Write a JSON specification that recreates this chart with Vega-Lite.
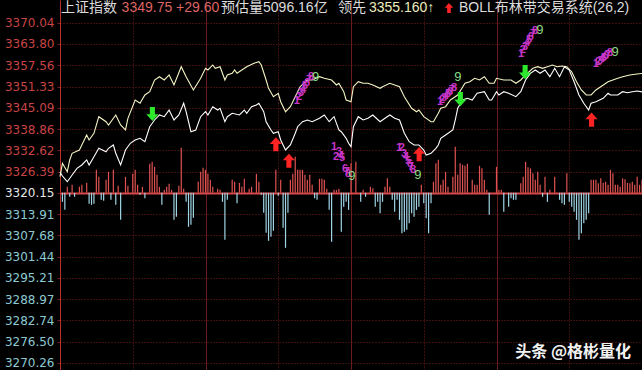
{
"$schema": "https://vega.github.io/schema/vega-lite/v6.json",
"width": 582, "height": 370,
"autosize": {"type": "none"},
"padding": {"left": 60, "top": 0, "right": 0, "bottom": 0},
"background": "#000000",
"config": {"view": {"stroke": null}},
"datasets": {
"lead": [{"t":0,"p":3324.88},{"t":1,"p":3328.81},{"t":3,"p":3326.35},{"t":4,"p":3329.78},{"t":5,"p":3331.74},{"t":8,"p":3332.71},{"t":9,"p":3334.18},{"t":11,"p":3337.11},{"t":12,"p":3335.64},{"t":14,"p":3337.61},{"t":16,"p":3342.48},{"t":19,"p":3341.01},{"t":20,"p":3340.04},{"t":23,"p":3342.98},{"t":25,"p":3340.04},{"t":27,"p":3338.58},{"t":28,"p":3342.01},{"t":31,"p":3347.37},{"t":33,"p":3346.41},{"t":35,"p":3348.84},{"t":37,"p":3349.81},{"t":39,"p":3353.24},{"t":41,"p":3354.21},{"t":43,"p":3353.24},{"t":45,"p":3354.71},{"t":47,"p":3351.77},{"t":50,"p":3357.14},{"t":52,"p":3354.21},{"t":55,"p":3350.31},{"t":58,"p":3353.74},{"t":60,"p":3356.67},{"t":61,"p":3356.17},{"t":63,"p":3357.64},{"t":64,"p":3356.67},{"t":66,"p":3357.14},{"t":68,"p":3353.24},{"t":69,"p":3354.71},{"t":71,"p":3355.20},{"t":72,"p":3356.17},{"t":73,"p":3355.20},{"t":75,"p":3356.17},{"t":77,"p":3357.14},{"t":80,"p":3358.14},{"t":82,"p":3358.61},{"t":83,"p":3357.64},{"t":85,"p":3353.24},{"t":86,"p":3350.80},{"t":88,"p":3348.34},{"t":90,"p":3349.34},{"t":91,"p":3346.88},{"t":93,"p":3343.94},{"t":95,"p":3345.41},{"t":97,"p":3348.34},{"t":99,"p":3351.27},{"t":102,"p":3353.24},{"t":104,"p":3353.24},{"t":107,"p":3354.21},{"t":109,"p":3353.74},{"t":112,"p":3353.24},{"t":114,"p":3351.77},{"t":115,"p":3352.27},{"t":117,"p":3349.81},{"t":118,"p":3347.37},{"t":120,"p":3346.88},{"t":121,"p":3351.27},{"t":123,"p":3352.74},{"t":125,"p":3352.27},{"t":127,"p":3352.27},{"t":129,"p":3351.77},{"t":132,"p":3350.80},{"t":133,"p":3351.27},{"t":136,"p":3352.27},{"t":138,"p":3351.77},{"t":140,"p":3351.27},{"t":142,"p":3348.34},{"t":145,"p":3344.94},{"t":147,"p":3343.94},{"t":148,"p":3344.44},{"t":150,"p":3342.48},{"t":153,"p":3341.01},{"t":154,"p":3341.01},{"t":156,"p":3343.47},{"t":157,"p":3344.94},{"t":159,"p":3345.41},{"t":161,"p":3347.37},{"t":164,"p":3348.84},{"t":167,"p":3352.27},{"t":169,"p":3352.74},{"t":171,"p":3353.74},{"t":173,"p":3353.24},{"t":175,"p":3354.21},{"t":177,"p":3352.27},{"t":179,"p":3352.27},{"t":180,"p":3353.74},{"t":183,"p":3353.24},{"t":186,"p":3353.24},{"t":188,"p":3352.27},{"t":190,"p":3353.24},{"t":192,"p":3354.71},{"t":195,"p":3356.67},{"t":197,"p":3357.14},{"t":199,"p":3356.67},{"t":201,"p":3357.14},{"t":203,"p":3357.64},{"t":205,"p":3357.14},{"t":207,"p":3357.34},{"t":209,"p":3357.14},{"t":211,"p":3355.67},{"t":213,"p":3352.74},{"t":215,"p":3350.31},{"t":217,"p":3348.84},{"t":219,"p":3348.84},{"t":221,"p":3350.31},{"t":223,"p":3351.27},{"t":226,"p":3352.74},{"t":230,"p":3353.74},{"t":232,"p":3354.21},{"t":235,"p":3354.71},{"t":238,"p":3355.00},{"t":240,"p":3355.16}],
"index": [{"t":0,"p":3326.26},{"t":1,"p":3325.09},{"t":3,"p":3323.41},{"t":5,"p":3325.38},{"t":7,"p":3327.34},{"t":9,"p":3328.31},{"t":11,"p":3329.78},{"t":12,"p":3328.31},{"t":14,"p":3330.75},{"t":16,"p":3333.21},{"t":19,"p":3332.21},{"t":20,"p":3333.21},{"t":22,"p":3334.18},{"t":23,"p":3331.74},{"t":25,"p":3328.31},{"t":27,"p":3332.71},{"t":29,"p":3334.68},{"t":31,"p":3335.64},{"t":33,"p":3336.14},{"t":35,"p":3335.14},{"t":37,"p":3339.54},{"t":39,"p":3341.51},{"t":41,"p":3342.98},{"t":43,"p":3342.48},{"t":45,"p":3344.44},{"t":47,"p":3341.51},{"t":49,"p":3342.98},{"t":51,"p":3346.41},{"t":52,"p":3343.94},{"t":54,"p":3338.08},{"t":56,"p":3338.58},{"t":58,"p":3342.48},{"t":60,"p":3343.94},{"t":61,"p":3342.98},{"t":63,"p":3345.41},{"t":65,"p":3344.44},{"t":66,"p":3344.94},{"t":68,"p":3341.01},{"t":69,"p":3342.48},{"t":71,"p":3343.47},{"t":74,"p":3342.98},{"t":76,"p":3344.44},{"t":77,"p":3343.47},{"t":79,"p":3345.41},{"t":81,"p":3345.91},{"t":82,"p":3346.41},{"t":84,"p":3343.94},{"t":85,"p":3341.01},{"t":87,"p":3338.58},{"t":88,"p":3337.61},{"t":90,"p":3338.08},{"t":91,"p":3335.64},{"t":93,"p":3332.71},{"t":95,"p":3334.18},{"t":97,"p":3337.61},{"t":98,"p":3339.54},{"t":100,"p":3341.01},{"t":102,"p":3341.51},{"t":104,"p":3341.01},{"t":107,"p":3342.01},{"t":109,"p":3342.98},{"t":111,"p":3341.01},{"t":113,"p":3342.48},{"t":115,"p":3338.58},{"t":116,"p":3338.08},{"t":118,"p":3336.14},{"t":119,"p":3334.68},{"t":120,"p":3333.68},{"t":121,"p":3339.54},{"t":123,"p":3342.48},{"t":125,"p":3341.51},{"t":127,"p":3342.01},{"t":129,"p":3342.98},{"t":132,"p":3341.01},{"t":134,"p":3342.01},{"t":136,"p":3342.98},{"t":138,"p":3342.01},{"t":140,"p":3341.51},{"t":142,"p":3337.61},{"t":144,"p":3335.14},{"t":146,"p":3334.18},{"t":148,"p":3334.18},{"t":150,"p":3332.71},{"t":151,"p":3331.25},{"t":153,"p":3331.74},{"t":155,"p":3333.21},{"t":156,"p":3334.18},{"t":157,"p":3336.14},{"t":159,"p":3337.11},{"t":162,"p":3338.58},{"t":163,"p":3341.51},{"t":164,"p":3344.94},{"t":166,"p":3347.37},{"t":168,"p":3347.87},{"t":170,"p":3347.37},{"t":172,"p":3349.34},{"t":175,"p":3349.81},{"t":177,"p":3347.37},{"t":178,"p":3347.37},{"t":180,"p":3349.81},{"t":181,"p":3348.84},{"t":183,"p":3349.81},{"t":185,"p":3349.34},{"t":188,"p":3348.34},{"t":190,"p":3349.81},{"t":192,"p":3353.24},{"t":194,"p":3355.20},{"t":196,"p":3356.17},{"t":198,"p":3355.20},{"t":200,"p":3356.17},{"t":202,"p":3354.21},{"t":204,"p":3356.67},{"t":206,"p":3354.21},{"t":208,"p":3357.14},{"t":210,"p":3356.17},{"t":212,"p":3352.74},{"t":214,"p":3348.84},{"t":216,"p":3346.41},{"t":218,"p":3344.44},{"t":219,"p":3346.41},{"t":221,"p":3346.88},{"t":224,"p":3347.87},{"t":226,"p":3349.34},{"t":227,"p":3348.84},{"t":230,"p":3348.84},{"t":232,"p":3349.81},{"t":234,"p":3349.51},{"t":236,"p":3349.81},{"t":238,"p":3350.01},{"t":240,"p":3349.75}],
"bars": [{"t":1,"p":3317.51},{"t":2,"p":3315.16},{"t":3,"p":3321.91},{"t":4,"p":3318.98},{"t":5,"p":3322.50},{"t":6,"p":3318.98},{"t":8,"p":3321.91},{"t":9,"p":3322.50},{"t":11,"p":3323.08},{"t":12,"p":3316.92},{"t":13,"p":3316.63},{"t":14,"p":3316.92},{"t":15,"p":3326.90},{"t":16,"p":3324.84},{"t":17,"p":3318.10},{"t":18,"p":3317.80},{"t":19,"p":3323.96},{"t":20,"p":3326.31},{"t":21,"p":3318.10},{"t":22,"p":3326.90},{"t":23,"p":3316.63},{"t":24,"p":3322.20},{"t":25,"p":3312.23},{"t":27,"p":3324.84},{"t":28,"p":3322.20},{"t":30,"p":3325.72},{"t":31,"p":3326.90},{"t":32,"p":3322.50},{"t":33,"p":3319.56},{"t":34,"p":3321.91},{"t":35,"p":3318.54},{"t":37,"p":3328.65},{"t":38,"p":3329.24},{"t":39,"p":3327.77},{"t":40,"p":3325.43},{"t":41,"p":3321.91},{"t":42,"p":3316.63},{"t":43,"p":3321.03},{"t":44,"p":3321.91},{"t":45,"p":3322.79},{"t":46,"p":3321.03},{"t":47,"p":3312.23},{"t":48,"p":3313.11},{"t":49,"p":3322.20},{"t":50,"p":3333.35},{"t":51,"p":3321.32},{"t":52,"p":3317.51},{"t":53,"p":3310.18},{"t":54,"p":3310.77},{"t":55,"p":3312.82},{"t":57,"p":3323.38},{"t":58,"p":3326.31},{"t":59,"p":3327.48},{"t":60,"p":3326.90},{"t":61,"p":3325.72},{"t":62,"p":3323.96},{"t":63,"p":3321.91},{"t":65,"p":3321.32},{"t":66,"p":3321.03},{"t":67,"p":3317.51},{"t":68,"p":3306.37},{"t":69,"p":3318.10},{"t":71,"p":3323.96},{"t":72,"p":3323.38},{"t":73,"p":3317.07},{"t":74,"p":3323.08},{"t":75,"p":3321.91},{"t":76,"p":3324.26},{"t":78,"p":3321.32},{"t":79,"p":3321.91},{"t":81,"p":3325.72},{"t":82,"p":3323.38},{"t":83,"p":3319.56},{"t":84,"p":3314.28},{"t":85,"p":3308.42},{"t":86,"p":3306.07},{"t":87,"p":3307.25},{"t":88,"p":3309.01},{"t":89,"p":3326.90},{"t":90,"p":3319.27},{"t":91,"p":3323.96},{"t":92,"p":3309.89},{"t":93,"p":3304.02},{"t":94,"p":3314.28},{"t":95,"p":3323.96},{"t":96,"p":3325.72},{"t":97,"p":3330.71},{"t":98,"p":3326.90},{"t":99,"p":3326.90},{"t":100,"p":3326.90},{"t":101,"p":3325.43},{"t":102,"p":3323.96},{"t":103,"p":3325.43},{"t":104,"p":3322.50},{"t":105,"p":3318.54},{"t":106,"p":3318.10},{"t":107,"p":3324.26},{"t":108,"p":3324.26},{"t":109,"p":3323.96},{"t":110,"p":3321.32},{"t":111,"p":3315.16},{"t":112,"p":3305.78},{"t":113,"p":3321.03},{"t":114,"p":3321.03},{"t":115,"p":3321.32},{"t":116,"p":3308.71},{"t":117,"p":3316.04},{"t":118,"p":3317.51},{"t":119,"p":3315.16},{"t":120,"p":3328.80},{"t":122,"p":3329.24},{"t":124,"p":3317.51},{"t":125,"p":3321.03},{"t":126,"p":3318.98},{"t":128,"p":3321.91},{"t":129,"p":3321.47},{"t":130,"p":3316.04},{"t":131,"p":3317.51},{"t":132,"p":3314.14},{"t":133,"p":3317.51},{"t":134,"p":3321.91},{"t":135,"p":3324.40},{"t":136,"p":3321.91},{"t":137,"p":3318.10},{"t":138,"p":3314.58},{"t":139,"p":3318.10},{"t":140,"p":3312.23},{"t":141,"p":3308.27},{"t":142,"p":3308.71},{"t":143,"p":3309.30},{"t":144,"p":3311.21},{"t":145,"p":3314.14},{"t":146,"p":3313.11},{"t":147,"p":3315.16},{"t":148,"p":3316.04},{"t":149,"p":3322.50},{"t":150,"p":3317.07},{"t":151,"p":3312.67},{"t":152,"p":3308.27},{"t":153,"p":3317.07},{"t":154,"p":3323.38},{"t":155,"p":3328.80},{"t":156,"p":3329.83},{"t":157,"p":3322.50},{"t":158,"p":3323.96},{"t":159,"p":3326.31},{"t":160,"p":3321.91},{"t":162,"p":3324.84},{"t":163,"p":3333.64},{"t":164,"p":3325.43},{"t":165,"p":3328.80},{"t":166,"p":3328.36},{"t":167,"p":3328.07},{"t":168,"p":3328.65},{"t":170,"p":3323.96},{"t":171,"p":3322.50},{"t":172,"p":3322.50},{"t":173,"p":3328.07},{"t":174,"p":3327.33},{"t":175,"p":3323.96},{"t":176,"p":3321.03},{"t":177,"p":3313.70},{"t":180,"p":3327.77},{"t":181,"p":3321.03},{"t":182,"p":3321.03},{"t":183,"p":3314.58},{"t":185,"p":3316.04},{"t":186,"p":3318.54},{"t":187,"p":3318.10},{"t":188,"p":3318.10},{"t":190,"p":3322.94},{"t":191,"p":3324.84},{"t":192,"p":3329.24},{"t":193,"p":3327.63},{"t":194,"p":3327.33},{"t":195,"p":3325.87},{"t":196,"p":3323.96},{"t":197,"p":3326.31},{"t":198,"p":3322.50},{"t":199,"p":3318.98},{"t":200,"p":3324.84},{"t":201,"p":3317.51},{"t":202,"p":3321.03},{"t":204,"p":3324.84},{"t":206,"p":3318.10},{"t":207,"p":3317.07},{"t":208,"p":3316.63},{"t":209,"p":3325.87},{"t":210,"p":3317.51},{"t":211,"p":3316.04},{"t":212,"p":3314.58},{"t":213,"p":3312.23},{"t":214,"p":3306.37},{"t":215,"p":3308.27},{"t":216,"p":3311.21},{"t":217,"p":3312.23},{"t":218,"p":3314.14},{"t":219,"p":3323.96},{"t":220,"p":3323.96},{"t":221,"p":3323.96},{"t":222,"p":3322.94},{"t":223,"p":3324.40},{"t":224,"p":3323.08},{"t":225,"p":3323.38},{"t":226,"p":3322.50},{"t":227,"p":3326.90},{"t":228,"p":3325.87},{"t":229,"p":3322.50},{"t":230,"p":3322.50},{"t":231,"p":3321.91},{"t":232,"p":3324.40},{"t":233,"p":3324.11},{"t":234,"p":3323.08},{"t":235,"p":3322.94},{"t":236,"p":3323.38},{"t":237,"p":3322.50},{"t":238,"p":3324.84},{"t":239,"p":3322.50},{"t":240,"p":3323.96}],
"signals": [{"t":38.1,"p":3343.27,"k":"sell"},{"t":165.1,"p":3347.61,"k":"sell"},{"t":191.8,"p":3355.53,"k":"sell"},{"t":89.0,"p":3334.38,"k":"buy"},{"t":94.4,"p":3329.57,"k":"buy"},{"t":148.1,"p":3331.48,"k":"buy"},{"t":219.2,"p":3341.60,"k":"buy"},{"t":160.4,"p":3374.35,"k":"hdr"}],
"td": [{"t":97.7,"p":3347.08,"s":"1","k":"c"},{"t":98.6,"p":3348.25,"s":"2","k":"c"},{"t":99.4,"p":3349.43,"s":"3","k":"c"},{"t":100.2,"p":3350.31,"s":"4","k":"c"},{"t":101.0,"p":3351.48,"s":"5","k":"c"},{"t":101.9,"p":3352.36,"s":"6","k":"c"},{"t":102.7,"p":3353.24,"s":"7","k":"c"},{"t":103.5,"p":3354.12,"s":"8","k":"c"},{"t":105.4,"p":3354.05,"s":"9","k":"n"},
{"t":113.0,"p":3333.59,"s":"1","k":"c"},{"t":113.8,"p":3330.66,"s":"2","k":"c"},{"t":115.1,"p":3332.13,"s":"3","k":"c"},{"t":115.9,"p":3330.95,"s":"4","k":"c"},{"t":116.3,"p":3330.37,"s":"5","k":"c"},{"t":117.5,"p":3327.14,"s":"6","k":"c"},{"t":118.4,"p":3326.26,"s":"7","k":"c"},{"t":118.8,"p":3325.68,"s":"8","k":"c"},{"t":120.4,"p":3325.09,"s":"9","k":"n"},
{"t":139.8,"p":3333.30,"s":"1","k":"c"},{"t":141.0,"p":3333.30,"s":"2","k":"c"},{"t":141.9,"p":3331.54,"s":"3","k":"c"},{"t":142.7,"p":3330.66,"s":"4","k":"c"},{"t":143.5,"p":3329.49,"s":"5","k":"c"},{"t":144.3,"p":3328.61,"s":"6","k":"c"},{"t":144.7,"p":3327.73,"s":"7","k":"c"},{"t":145.6,"p":3326.85,"s":"8","k":"c"},{"t":147.6,"p":3325.38,"s":"9","k":"n"},
{"t":156.7,"p":3346.79,"s":"1","k":"c"},{"t":157.5,"p":3347.37,"s":"2","k":"c"},{"t":158.4,"p":3347.96,"s":"3","k":"c"},{"t":159.2,"p":3348.55,"s":"4","k":"c"},{"t":160.0,"p":3349.13,"s":"5","k":"c"},{"t":160.8,"p":3349.72,"s":"6","k":"c"},{"t":161.6,"p":3350.31,"s":"7","k":"c"},{"t":162.5,"p":3350.89,"s":"8","k":"c"},{"t":164.1,"p":3354.12,"s":"9","k":"n"},
{"t":190.1,"p":3360.86,"s":"1","k":"c"},{"t":190.9,"p":3362.04,"s":"2","k":"c"},{"t":191.8,"p":3362.92,"s":"3","k":"c"},{"t":192.6,"p":3364.09,"s":"4","k":"c"},{"t":193.4,"p":3364.97,"s":"5","k":"c"},{"t":194.2,"p":3365.85,"s":"6","k":"c"},{"t":195.1,"p":3366.73,"s":"7","k":"c"},{"t":195.9,"p":3367.61,"s":"8","k":"c"},{"t":197.9,"p":3367.90,"s":"9","k":"n"},
{"t":221.0,"p":3357.93,"s":"1","k":"c"},{"t":221.9,"p":3358.52,"s":"2","k":"c"},{"t":222.7,"p":3358.81,"s":"3","k":"c"},{"t":223.5,"p":3359.40,"s":"4","k":"c"},{"t":224.3,"p":3359.69,"s":"5","k":"c"},{"t":225.2,"p":3360.28,"s":"6","k":"c"},{"t":226.0,"p":3360.57,"s":"7","k":"c"},{"t":226.8,"p":3361.16,"s":"8","k":"c"},{"t":228.9,"p":3361.45,"s":"9","k":"n"}],
"header": [{"t":0.4,"p":3374.35,"s":"上证指数","k":"name"},{"t":25.4,"p":3374.35,"s":"3349.75 +29.60","k":"chg"},{"t":66.4,"p":3374.35,"s":"预估量5096.16亿","k":"name"},{"t":114.6,"p":3374.35,"s":"领先","k":"name"},{"t":127.4,"p":3374.35,"s":"3355.160↑","k":"lead"},{"t":164.5,"p":3374.35,"s":"BOLL布林带交易系统(26,2)","k":"name"}],
"mark": [{"t":235.5,"p":3273.56,"s":"头条 @格彬量化"}]
},
"encoding": {
"x": {"field": "t", "type": "quantitative", "scale": {"domain": [0, 240], "nice": false, "zero": false},
 "axis": {"values": [30, 60, 90, 120, 150, 180, 210], "grid": true, "labels": false, "ticks": false, "domain": false, "title": null,
  "gridColor": {"condition": {"test": "datum.value % 60 === 0", "value": "#8e2424"}, "value": "#7a1c1c"},
  "gridDash": {"condition": {"test": "datum.value % 60 === 0", "value": [1, 0]}, "value": [1, 2]}}},
"y": {"field": "p", "type": "quantitative", "scale": {"domain": [3268.19, 3376.70], "nice": false, "zero": false},
 "axis": {"values": [3370.04, 3363.80, 3357.56, 3351.33, 3345.09, 3338.86, 3332.62, 3326.39, 3320.15, 3313.91, 3307.68, 3301.44, 3295.21, 3288.97, 3282.74, 3276.50, 3270.26],
  "format": ".2f", "title": null, "labelFont": "DejaVu Sans", "labelFontSize": 12, "labelPadding": 3, "labelOverlap": false, "labelFlush": false, "labelBound": false,
  "labelColor": {"condition": [{"test": "datum.value > 3320.2", "value": "#c84444"}, {"test": "datum.value > 3320.1", "value": "#e6e6e6"}], "value": "#8ccad2"},
  "tickSize": 3, "tickColor": "#7a1c1c", "domainColor": "#b83030", "domainWidth": 1,
  "grid": true,
  "gridColor": {"condition": {"test": "abs(datum.value - 3320.15) < 0.01", "value": "#d84848"}, "value": "#7a1c1c"},
  "gridDash": {"condition": {"test": "abs(datum.value - 3320.15) < 0.01", "value": [1, 0]}, "value": [1, 2]},
  "gridWidth": {"condition": {"test": "abs(datum.value - 3320.15) < 0.01", "value": 2}, "value": 1}}}
},
"layer": [
{"data": {"name": "bars"}, "mark": {"type": "rule", "strokeWidth": 1.2},
 "encoding": {"y2": {"datum": 3320.15}, "color": {"condition": {"test": "datum.p > 3320.15", "value": "#e05252"}, "value": "#a0d4e4"}}},
{"data": {"name": "lead"}, "mark": {"type": "line", "color": "#f4f4c4", "strokeWidth": 1.1}, "encoding": {}},
{"data": {"name": "index"}, "mark": {"type": "line", "color": "#ffffff", "strokeWidth": 1.1}, "encoding": {}},
{"data": {"name": "signals"}, "transform": [{"filter": "datum.k === 'buy'"}],
 "mark": {"type": "point", "shape": "M0,-1 L0.86,-0.05 L0.36,-0.05 L0.36,1 L-0.36,1 L-0.36,-0.05 L-0.86,-0.05 Z", "filled": true, "color": "#ff2424", "size": 200, "opacity": 1, "strokeWidth": 0}},
{"data": {"name": "signals"}, "transform": [{"filter": "datum.k === 'sell'"}],
 "mark": {"type": "point", "shape": "M0,1 L0.86,0.05 L0.36,0.05 L0.36,-1 L-0.36,-1 L-0.36,0.05 L-0.86,0.05 Z", "filled": true, "color": "#2ee82e", "size": 200, "opacity": 1, "strokeWidth": 0}},
{"data": {"name": "signals"}, "transform": [{"filter": "datum.k === 'hdr'"}],
 "mark": {"type": "point", "shape": "M0,-1 L0.86,-0.05 L0.36,-0.05 L0.36,1 L-0.36,1 L-0.36,-0.05 L-0.86,-0.05 Z", "filled": true, "color": "#ff2424", "size": 100, "opacity": 1, "strokeWidth": 0}},
{"data": {"name": "td"}, "transform": [{"filter": "datum.k === 'c'"}],
 "mark": {"type": "text", "font": "Liberation Sans", "fontSize": 11, "fontWeight": "bold", "color": "#c836c8", "align": "center", "baseline": "middle"},
 "encoding": {"text": {"field": "s"}}},
{"data": {"name": "td"}, "transform": [{"filter": "datum.k === 'n'"}],
 "mark": {"type": "text", "font": "Liberation Sans", "fontSize": 13, "color": "#86dc86", "align": "center", "baseline": "middle"},
 "encoding": {"text": {"field": "s"}}},
{"data": {"name": "header"}, "transform": [{"filter": "datum.k === 'name'"}],
 "mark": {"type": "text", "font": "Liberation Sans, Noto Sans CJK SC", "fontSize": 14, "color": "#dcdcdc", "align": "left", "baseline": "middle"},
 "encoding": {"text": {"field": "s"}}},
{"data": {"name": "header"}, "transform": [{"filter": "datum.k === 'chg'"}],
 "mark": {"type": "text", "font": "Liberation Sans, Noto Sans CJK SC", "fontSize": 14, "color": "#dd6464", "align": "left", "baseline": "middle"},
 "encoding": {"text": {"field": "s"}}},
{"data": {"name": "header"}, "transform": [{"filter": "datum.k === 'lead'"}],
 "mark": {"type": "text", "font": "Liberation Sans, Noto Sans CJK SC", "fontSize": 14, "color": "#ecebbc", "align": "left", "baseline": "middle"},
 "encoding": {"text": {"field": "s"}}},
{"data": {"name": "mark"},
 "mark": {"type": "text", "font": "Noto Sans CJK SC", "fontSize": 16, "fontWeight": "bold", "color": "#f2f2f2", "align": "right", "baseline": "middle"},
 "encoding": {"text": {"field": "s"}}}
]
}
